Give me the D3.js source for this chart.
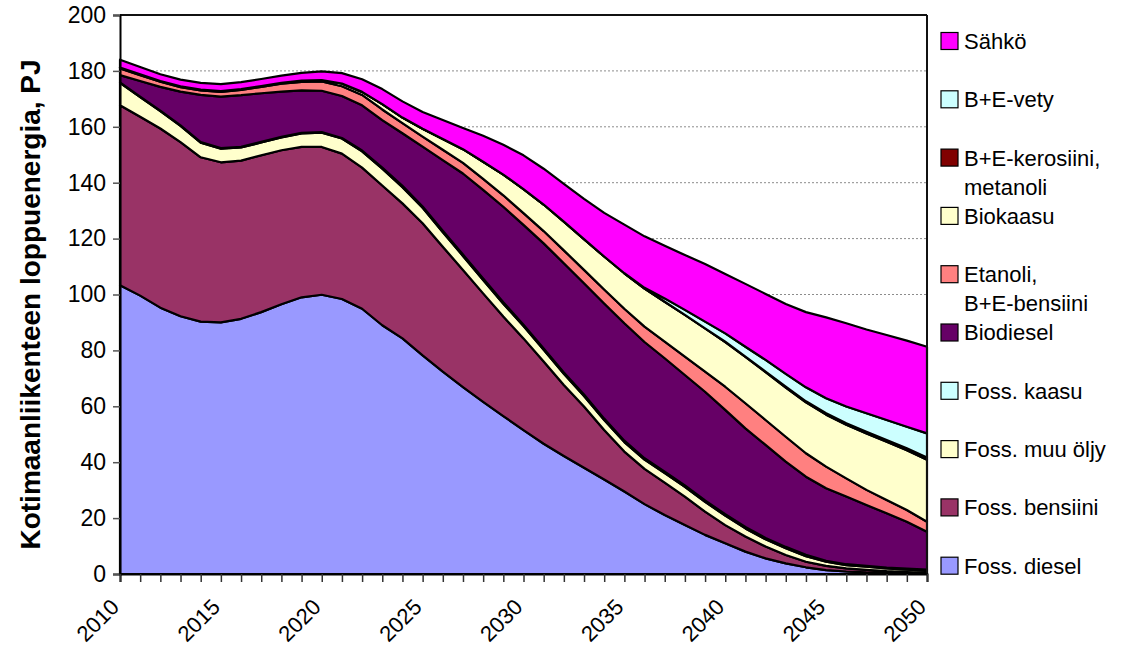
<!DOCTYPE html>
<html><head><meta charset="utf-8">
<script src="https://cdn.jsdelivr.net/npm/d3@7"></script>
<style>
body{margin:0;background:#fff}
svg{display:block}
text{font-family:"Liberation Sans",Arial,sans-serif;fill:#000}
</style>
</head><body>
<svg id="chart" width="1132" height="650"></svg>
<script>
const years = [2010,2011,2012,2013,2014,2015,2016,2017,2018,2019,2020,2021,2022,2023,2024,2025,2026,2027,2028,2029,2030,2031,2032,2033,2034,2035,2036,2037,2038,2039,2040,2041,2042,2043,2044,2045,2046,2047,2048,2049,2050];

const fossDiesel   = [103.3,99.6,95.3,92.2,90.3,90.0,91.3,93.7,96.5,99.0,99.9,98.4,94.9,89.0,84.3,78.2,72.4,66.9,61.6,56.5,51.5,46.6,42.2,38.0,33.8,29.5,25.0,21.1,17.5,14.0,11.0,8.0,5.6,3.8,2.4,1.4,0.9,0.6,0.5,0.4,0.3];
const fossBensiini = [64.4,64.0,64.1,62.3,58.8,57.3,56.6,56.1,55.1,53.8,52.9,52.0,50.5,50.0,48.3,47.3,44.7,41.9,38.8,35.6,32.8,29.4,25.4,21.9,17.7,14.3,12.6,11.6,10.2,8.3,6.5,5.4,4.2,3.0,2.0,1.5,1.1,0.9,0.5,0.3,0.2];
const fossMuuOljy  = [8.0,7.0,6.2,5.8,5.2,4.9,4.7,4.6,4.6,4.8,5.1,5.4,5.8,6.0,5.8,5.5,5.2,5.0,4.8,4.6,4.4,4.2,4.0,3.8,3.6,3.4,3.3,3.4,3.5,3.5,3.4,2.9,2.6,2.4,2.0,1.5,1.2,1.1,1.0,0.9,0.8];
const fossKaasu    = [0.2,0.2,0.2,0.2,0.2,0.2,0.2,0.2,0.2,0.2,0.2,0.2,0.3,0.4,0.5,0.5,0.5,0.5,0.5,0.5,0.5,0.5,0.5,0.5,0.5,0.5,0.5,0.5,0.5,0.5,0.5,0.5,0.5,0.5,0.5,0.3,0.3,0.3,0.3,0.3,0.3];
const biodiesel    = [2.6,5.6,8.5,12.1,16.9,18.4,18.5,17.4,16.2,15.2,14.8,15.0,16.2,17.0,18.8,21.4,25.3,29.0,31.7,34.2,35.7,37.6,39.1,39.8,41.2,42.0,41.6,40.6,39.5,38.9,37.3,35.3,33.3,30.5,27.9,26.0,24.2,21.8,19.4,16.8,13.5];
const etanoli      = [2.4,2.1,1.8,1.6,1.6,1.7,1.9,2.3,2.8,3.1,3.3,3.5,3.7,3.8,3.6,3.6,3.7,3.8,4.0,4.1,4.2,4.4,4.6,4.8,5.0,5.2,5.5,5.9,6.6,7.2,8.3,9.0,8.9,8.9,8.4,7.7,6.5,5.4,4.8,4.2,3.6];
const biokaasu     = [0.3,0.3,0.3,0.3,0.3,0.3,0.3,0.3,0.3,0.4,0.5,1.0,1.1,1.9,2.0,2.8,3.8,4.9,6.1,7.4,8.6,9.5,10.3,11.0,11.8,12.7,13.6,14.3,14.9,15.5,16.0,16.6,17.1,17.6,18.2,18.6,19.2,20.2,20.8,21.4,22.2];
const keroMetanoli = [0,0,0,0,0,0,0,0,0,0,0,0,0,0,0,0,0,0,0,0,0,0,0,0,0,0,0,0,0,0,0.1,0.1,0.2,0.3,0.4,0.5,0.5,0.6,0.6,0.7,0.8];
const vety         = [0,0,0,0,0,0,0,0,0,0,0,0,0,0,0,0,0,0,0,0,0,0,0,0,0,0,0.3,1.2,1.8,2.4,3.0,3.5,4.2,4.6,5.0,5.4,6.0,6.6,7.2,7.7,8.6];
const sahko        = [2.8,2.6,2.4,2.4,2.4,2.5,2.5,2.5,2.6,2.8,3.1,3.7,4.5,5.4,5.8,6.0,6.8,7.6,9.3,10.7,12.1,12.8,13.5,14.4,15.6,17.4,18.4,18.8,19.6,20.6,21.2,22.5,23.6,25.0,26.9,28.9,29.8,30.0,30.4,30.8,31.0];

// bottom-to-top stacking order
const seriesKeys   = ["fossDiesel","fossBensiini","fossMuuOljy","fossKaasu","biodiesel","etanoli","biokaasu","keroMetanoli","vety","sahko"];
const seriesValues = [fossDiesel,fossBensiini,fossMuuOljy,fossKaasu,biodiesel,etanoli,biokaasu,keroMetanoli,vety,sahko];
const seriesColors = ["#9999FF","#993366","#FFFFCC","#CCFFFF","#660066","#FF8080","#FFFFCC","#800000","#CCFFFF","#FF00FF"];
// legend, top-to-bottom
const legendLabels = [["Sähkö"],["B+E-vety"],["B+E-kerosiini,","metanoli"],["Biokaasu"],["Etanoli,","B+E-bensiini"],["Biodiesel"],["Foss. kaasu"],["Foss. muu öljy"],["Foss. bensiini"],["Foss. diesel"]];
const yTicks = [0,20,40,60,80,100,120,140,160,180,200];
const xLabelYears = [2010,2015,2020,2025,2030,2035,2040,2045,2050];
const yTitle = "Kotimaanliikenteen loppuenergia, PJ";

const table = years.map((yr,i)=>{
  const row = {year:yr};
  seriesKeys.forEach((k,j)=>row[k]=seriesValues[j][i]);
  return row;
});

const L=120, R=927, T=15, B=574;
const x = d3.scaleLinear().domain([2010,2050]).range([L,R]);
const y = d3.scaleLinear().domain([0,200]).range([B,T]);

const svg = d3.select("#chart");

// gridlines
svg.append("g").selectAll("line").data(yTicks.filter(v=>v>0&&v<200)).join("line")
  .attr("x1",L).attr("x2",R).attr("y1",d=>y(d)).attr("y2",d=>y(d))
  .attr("stroke","#8c8c8c").attr("stroke-width",1).attr("stroke-dasharray","2,2");

// stacked areas
const stack = d3.stack().keys(seriesKeys);
const layers = stack(table);
const area = d3.area().x(d=>x(d.data.year)).y0(d=>y(d[0])).y1(d=>y(d[1]));
svg.append("g").selectAll("path").data(layers).join("path")
  .attr("d",area)
  .attr("fill",(d,i)=>seriesColors[i])
  .attr("stroke","#000").attr("stroke-width",2.2).attr("stroke-linejoin","round");

// frame
svg.append("line").attr("x1",L).attr("x2",R).attr("y1",T).attr("y2",T).attr("stroke","#111").attr("stroke-width",2);
svg.append("line").attr("x1",R).attr("x2",R).attr("y1",T).attr("y2",B).attr("stroke","#111").attr("stroke-width",2);

// y axis
const yAxis = svg.append("g").attr("transform",`translate(${L},0)`)
  .call(d3.axisLeft(y).tickValues(yTicks).tickSize(7).tickPadding(7));
yAxis.select(".domain").attr("stroke","#000").attr("stroke-width",2);
yAxis.selectAll(".tick line").attr("stroke","#555").attr("stroke-width",1.5);
yAxis.selectAll(".tick text").style("font-size","23px").style("font-family","'Liberation Sans',Arial,sans-serif").attr("fill","#000");

// x axis
const xAxis = svg.append("g").attr("transform",`translate(0,${B})`)
  .call(d3.axisBottom(x).tickValues(years).tickSize(8).tickFormat(""));
xAxis.select(".domain").attr("stroke","#000").attr("stroke-width",2);
xAxis.selectAll(".tick line").attr("stroke","#333").attr("stroke-width",1.5);

svg.append("g").selectAll("text").data(xLabelYears).join("text")
  .attr("transform",d=>`translate(${x(d)-5},${B+29}) rotate(-45)`)
  .attr("text-anchor","end").attr("dy","0.35em")
  .style("font-size","22px").text(d=>d);

// y title
svg.append("text")
  .attr("transform",`translate(40,${(T+B)/2+10}) rotate(-90)`)
  .attr("text-anchor","middle")
  .style("font-size","28px").style("font-weight","bold").text(yTitle);

// legend
const legendColors = seriesColors.slice().reverse();
const lg = svg.append("g");
legendLabels.forEach((lines,i)=>{
  const cy = 41 + i*58.3;
  lg.append("rect").attr("x",941).attr("y",cy-8.5).attr("width",17).attr("height",17)
    .attr("fill",legendColors[i]).attr("stroke","#000").attr("stroke-width",1.2);
  lines.forEach((t,k)=>{
    lg.append("text").attr("x",964).attr("y",cy+k*29).attr("dy","0.36em")
      .style("font-size","22px").text(t);
  });
});
</script>
</body></html>
